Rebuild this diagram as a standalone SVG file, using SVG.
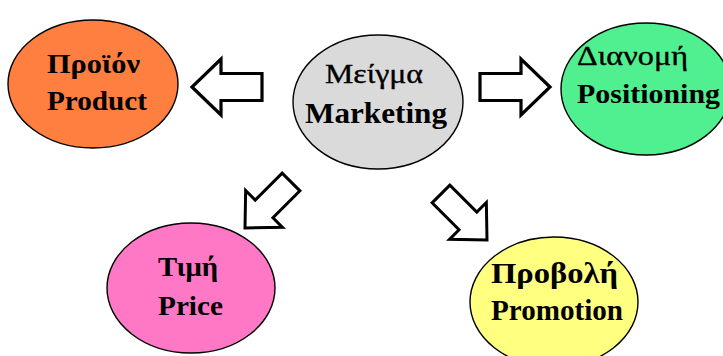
<svg xmlns="http://www.w3.org/2000/svg" xmlns:xlink="http://www.w3.org/1999/xlink" width="723" height="356" viewBox="0 0 723 356">
  <style>
    .node { stroke: #000; stroke-width: 1.4; }
    text { font-family: 'Liberation Serif', 'DejaVu Serif', 'Times New Roman', serif; font-weight: bold; font-size: 28px; fill: #000; }
    text.thin { font-weight: normal; stroke: #000; stroke-width: 0.35; }
    text.big { font-size: 30px; }
    .arrow { fill: #fff; stroke: #000; stroke-width: 3.2; stroke-linejoin: miter; }
  </style>
  <defs>
    <!-- block arrow pointing right, tip at origin -->
    <path id="blockArrow" d="M0,0 L-29,-28 L-29,-13.5 L-70,-13.5 L-70,13.5 L-29,13.5 L-29,28 Z"/>
  </defs>

  <rect width="723" height="356" fill="#fff"/>

  <g id="connectors">
    <use xlink:href="#blockArrow" class="arrow" transform="translate(192,87) rotate(180)"/>
    <use xlink:href="#blockArrow" class="arrow" transform="translate(550,87)"/>
    <use xlink:href="#blockArrow" class="arrow" transform="translate(245,228) rotate(135) scale(0.93)"/>
    <use xlink:href="#blockArrow" class="arrow" transform="translate(487,240) rotate(45) scale(0.93)"/>
  </g>

  <g id="product">
    <ellipse class="node" cx="93" cy="84" rx="85" ry="64" fill="#ff7f40"/>
    <text x="47" y="73" textLength="93" lengthAdjust="spacingAndGlyphs">Προϊόν</text>
    <text x="47" y="110" textLength="100" lengthAdjust="spacingAndGlyphs">Product</text>
  </g>

  <g id="marketing">
    <ellipse class="node" cx="378" cy="102" rx="85" ry="67" fill="#dadada"/>
    <text class="thin" x="325" y="83" textLength="98" lengthAdjust="spacingAndGlyphs">Μείγμα</text>
    <text class="big" x="305" y="123" textLength="142" lengthAdjust="spacingAndGlyphs">Marketing</text>
  </g>

  <g id="positioning">
    <ellipse class="node" cx="646" cy="89" rx="85" ry="66" fill="#50ef90"/>
    <text class="thin" x="577" y="65" textLength="111" lengthAdjust="spacingAndGlyphs">Διανομή</text>
    <text x="577" y="103" textLength="143" lengthAdjust="spacingAndGlyphs">Positioning</text>
  </g>

  <g id="price">
    <ellipse class="node" cx="191" cy="288" rx="84" ry="65" fill="#ff78c6"/>
    <text x="158" y="276" textLength="60" lengthAdjust="spacingAndGlyphs">Τιμή</text>
    <text x="158" y="315" textLength="65" lengthAdjust="spacingAndGlyphs">Price</text>
  </g>

  <g id="promotion">
    <ellipse class="node" cx="554" cy="302" rx="84" ry="65" fill="#ffff80"/>
    <text class="big" x="491" y="283" textLength="127" lengthAdjust="spacingAndGlyphs">Προβολή</text>
    <text class="big" x="491" y="320" textLength="132" lengthAdjust="spacingAndGlyphs">Promotion</text>
  </g>
</svg>
